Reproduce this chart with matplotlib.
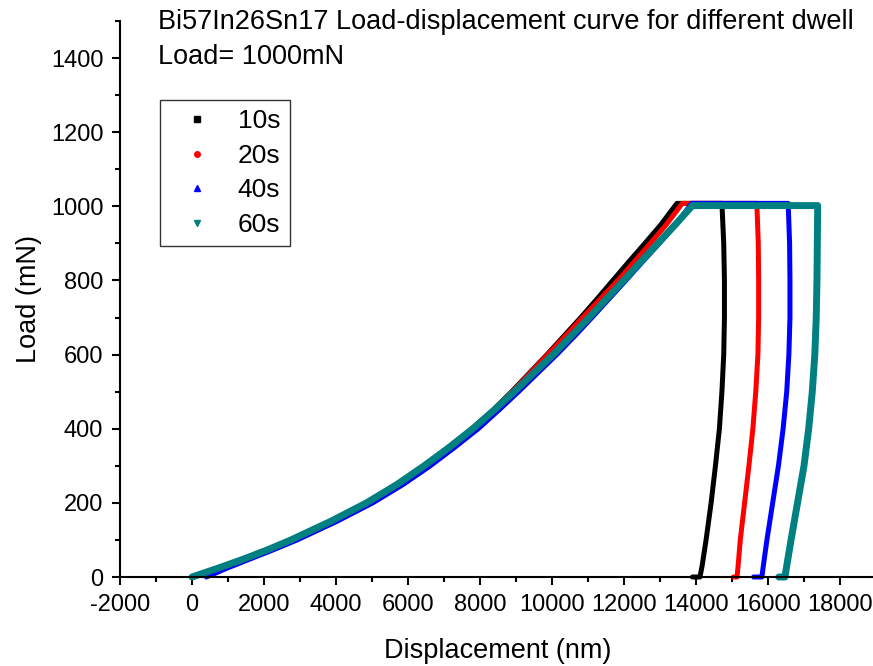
import matplotlib
matplotlib.use("Agg")
import matplotlib.pyplot as plt
from matplotlib.lines import Line2D
from matplotlib.ticker import MultipleLocator

plt.rcParams["font.family"] = ["Liberation Sans", "DejaVu Sans"]
plt.rcParams["axes.unicode_minus"] = False

labels = ["10s", "20s", "40s", "60s"]
colors = ["#000000", "#ff0000", "#0000ff", "#008080"]
markers = ["s", "o", "^", "v"]

# loading branch (displacement nm, load mN)
load_y = [0, 25, 50, 75, 100, 150, 200, 250, 300, 350, 400, 450, 500, 550, 600,
          650, 700, 750, 800, 850, 900, 950]
load_10s_x = [0, 750, 1470, 2130, 2740, 3840, 4840, 5690, 6440, 7130, 7780, 8360, 8880, 9370, 9860,
              10330, 10800, 11250, 11690, 12130, 12580, 13020]
load_20s_x = [0, 740, 1460, 2120, 2740, 3840, 4840, 5690, 6440, 7140, 7790, 8380, 8900, 9390, 9880,
              10370, 10850, 11340, 11830, 12280, 12730, 13170]
load_40s_x = [400, 1000, 1650, 2300, 2920, 4020, 5020, 5870, 6620, 7300, 7950, 8520, 9070, 9600, 10130,
              10630, 11110, 11580, 12050, 12510, 12980, 13430]
load_60s_x = [0, 760, 1480, 2140, 2750, 3850, 4850, 5700, 6450, 7150, 7800, 8390, 8950, 9490, 10030,
              10530, 11030, 11510, 11990, 12460, 12940, 13420]
peak_x = [13470, 13620, 13880, 13900]
peak_y = [1008, 1008, 1008, 1002]

# end of dwell + unloading branch
unload_y = [900, 800, 700, 600, 500, 400, 300, 200, 100, 30, 0, 0]
unload_10s_x = [14770, 14790, 14790, 14770, 14720, 14650, 14540, 14420, 14280, 14170, 14110, 13900]
unload_20s_x = [15730, 15740, 15740, 15720, 15660, 15580, 15470, 15350, 15230, 15170, 15140, 15040]
unload_40s_x = [16600, 16610, 16610, 16580, 16520, 16420, 16290, 16130, 15970, 15870, 15830, 15600]
unload_60s_x = [17370, 17360, 17340, 17300, 17230, 17130, 17000, 16820, 16640, 16520, 16470, 16300]
dwell_end_x = [14720, 15690, 16560, 17380]

load_x = [load_10s_x, load_20s_x, load_40s_x, load_60s_x]
unload_x = [unload_10s_x, unload_20s_x, unload_40s_x, unload_60s_x]
widths = [3.6, 3.6, 3.6, 5.0]

W, H = 873, 666
fig = plt.figure(figsize=(W / 100, H / 100), dpi=100)
ax = fig.add_axes([120 / W, (H - 577) / H, (876 - 120) / W, (577 - 21) / H])

for lx, ux, px, py, ex, c, lw in zip(load_x, unload_x, peak_x, peak_y, dwell_end_x, colors, widths):
    xs = lx + [px, ex] + ux
    ys = load_y + [py, py] + unload_y
    ax.plot(xs, ys, color=c, lw=lw, solid_joinstyle="round", solid_capstyle="round", clip_on=False)

ax.set_xlim(-2000, 19000)
ax.set_ylim(0, 1500)
ax.xaxis.set_minor_locator(MultipleLocator(1000))
ax.yaxis.set_minor_locator(MultipleLocator(100))
ax.set_yticks([0, 200, 400, 600, 800, 1000, 1200, 1400])
ax.set_xticks(list(range(-2000, 18001, 2000)))

for side in ["top", "right"]:
    ax.spines[side].set_visible(False)
for side in ["left", "bottom"]:
    ax.spines[side].set_linewidth(1.5)

ax.tick_params(which="major", direction="out", length=6, width=1.5, labelsize=17, pad=6)
ax.tick_params(which="minor", direction="out", length=3.5, width=1.5)

ax.set_xlabel("Displacement (nm)", fontsize=19.5, labelpad=16)
ax.set_ylabel("Load (mN)", fontsize=19.5, labelpad=6)

fig.text(158 / W, 1 - 22 / H, "Bi57In26Sn17 Load-displacement curve for different dwell",
         fontsize=19.5, va="center", ha="left")
fig.text(158 / W, 1 - 57 / H, "Load= 1000mN", fontsize=19.5, va="center", ha="left")

handles = [Line2D([], [], color=c, marker=m, linestyle="none", markersize=4)
           for c, m in zip(colors, markers)]
leg = ax.legend(handles, labels, loc="upper left",
                bbox_to_anchor=(160 / W, 1 - 100 / H), bbox_transform=fig.transFigure,
                fontsize=19, frameon=True, fancybox=False, borderpad=0.35,
                handlelength=2.1, handletextpad=0.5, labelspacing=0.4, borderaxespad=0)
leg.get_frame().set_edgecolor("black")
leg.get_frame().set_linewidth(1.0)

fig.savefig("out.png", dpi=100)
